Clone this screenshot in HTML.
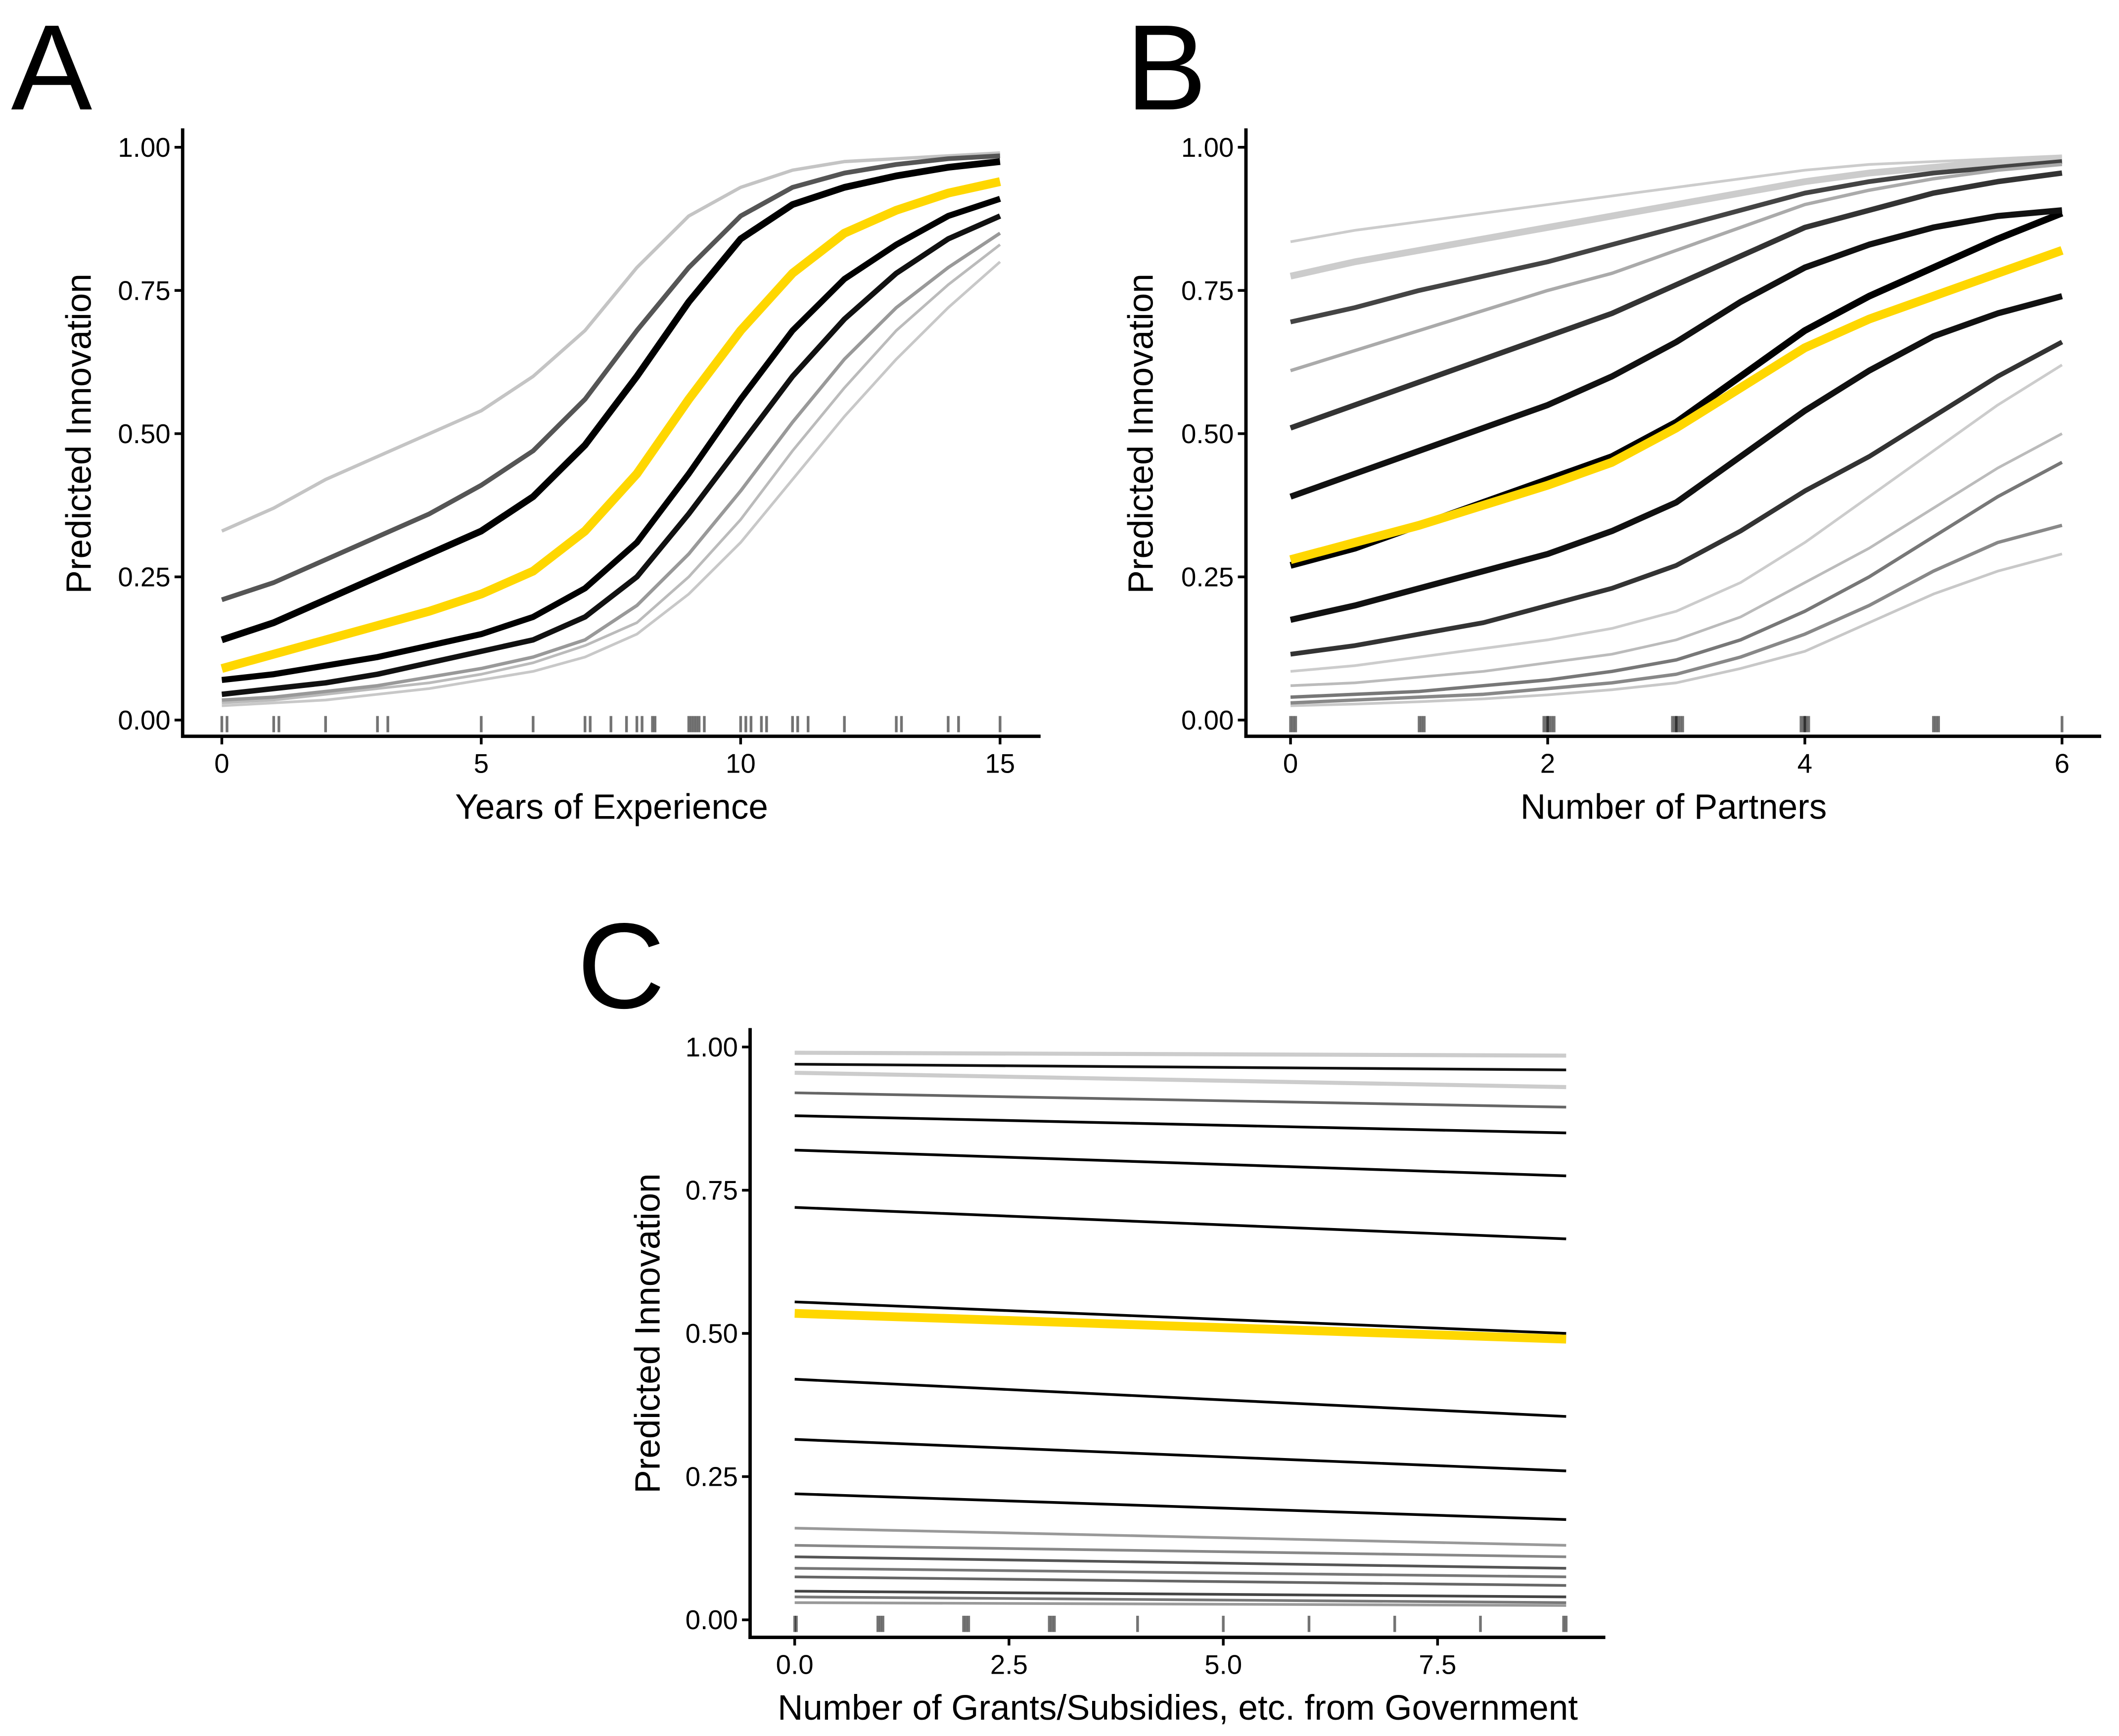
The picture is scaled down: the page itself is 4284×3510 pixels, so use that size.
<!DOCTYPE html>
<html><head><meta charset="utf-8">
<style>
html,body{margin:0;padding:0;background:#fff;}
svg{display:block;font-family:"Liberation Sans",Arial,sans-serif;}
</style></head>
<body>
<svg id="chart" width="4284" height="3510" viewBox="0 0 1568 1285" xmlns="http://www.w3.org/2000/svg">
<rect width="1568" height="1285" fill="#fff"/>
</svg>
<script>
// ---- Panel A data ----
const aX = [0,1,2,3,4,5,6,7,8,9,10,11,12,13,14,15];
const aYellow = [0.09,0.115,0.14,0.165,0.19,0.22,0.26,0.33,0.43,0.56,0.68,0.78,0.85,0.89,0.92,0.94];
const aLightTop = [0.33,0.37,0.42,0.46,0.50,0.54,0.60,0.68,0.79,0.88,0.93,0.96,0.975,0.98,0.985,0.99];
const aDarkGray = [0.21,0.24,0.28,0.32,0.36,0.41,0.47,0.56,0.68,0.79,0.88,0.93,0.955,0.97,0.98,0.985];
const aBlack1 = [0.14,0.17,0.21,0.25,0.29,0.33,0.39,0.48,0.60,0.73,0.84,0.90,0.93,0.95,0.965,0.975];
const aBlack2 = [0.07,0.08,0.095,0.11,0.13,0.15,0.18,0.23,0.31,0.43,0.56,0.68,0.77,0.83,0.88,0.91];
const aBlack3 = [0.045,0.055,0.065,0.08,0.1,0.12,0.14,0.18,0.25,0.36,0.48,0.6,0.7,0.78,0.84,0.88];
const aGray1 = [0.035,0.04,0.05,0.06,0.075,0.09,0.11,0.14,0.2,0.29,0.4,0.52,0.63,0.72,0.79,0.85];
const aGray2 = [0.03,0.035,0.045,0.055,0.065,0.08,0.1,0.13,0.17,0.25,0.35,0.47,0.58,0.68,0.76,0.83];
const aGray3 = [0.025,0.03,0.035,0.045,0.055,0.07,0.085,0.11,0.15,0.22,0.31,0.42,0.53,0.63,0.72,0.8];
const aRug = [0,0.1,1,1.1,2,3,3.2,5,6,7,7.1,7.5,7.8,8,8.1,8.3,8.35,9,9.05,9.1,9.15,9.2,9.3,10,10.1,10.2,10.4,10.5,11,11.1,11.3,12,13,13.1,14,14.2,15];
const aXTicks = [0,5,10,15];
// ---- Panel B data ----
const bX = [0,0.5,1,1.5,2,2.5,3,3.5,4,4.5,5,5.5,6];
const bYellow = [0.28,0.31,0.34,0.375,0.41,0.45,0.51,0.58,0.65,0.70,0.74,0.78,0.82];
const bLight1 = [0.835,0.855,0.87,0.885,0.9,0.915,0.93,0.945,0.96,0.97,0.975,0.98,0.985];
const bLight2 = [0.775,0.8,0.82,0.84,0.86,0.88,0.9,0.92,0.94,0.955,0.965,0.975,0.98];
const bDark1 = [0.695,0.72,0.75,0.775,0.8,0.83,0.86,0.89,0.92,0.94,0.955,0.965,0.975];
const bGray1 = [0.61,0.645,0.68,0.715,0.75,0.78,0.82,0.86,0.9,0.925,0.945,0.96,0.97];
const bDark2 = [0.51,0.55,0.59,0.63,0.67,0.71,0.76,0.81,0.86,0.89,0.92,0.94,0.955];
const bBlack1 = [0.39,0.43,0.47,0.51,0.55,0.60,0.66,0.73,0.79,0.83,0.86,0.88,0.89];
const bBlack2 = [0.27,0.30,0.34,0.38,0.42,0.46,0.52,0.60,0.68,0.74,0.79,0.84,0.885];
const bBlack3 = [0.175,0.2,0.23,0.26,0.29,0.33,0.38,0.46,0.54,0.61,0.67,0.71,0.74];
const bDark3 = [0.115,0.13,0.15,0.17,0.2,0.23,0.27,0.33,0.4,0.46,0.53,0.6,0.66];
const bGray2 = [0.085,0.095,0.11,0.125,0.14,0.16,0.19,0.24,0.31,0.39,0.47,0.55,0.62];
const bGray3 = [0.06,0.065,0.075,0.085,0.1,0.115,0.14,0.18,0.24,0.3,0.37,0.44,0.5];
const bGray4 = [0.04,0.045,0.05,0.06,0.07,0.085,0.105,0.14,0.19,0.25,0.32,0.39,0.45];
const bGray5 = [0.03,0.035,0.04,0.045,0.055,0.065,0.08,0.11,0.15,0.2,0.26,0.31,0.34];
const bGray6 = [0.025,0.028,0.032,0.037,0.044,0.053,0.065,0.09,0.12,0.17,0.22,0.26,0.29];
const bRug = [0,0.02,0.04,1,1.02,1.04,2,1.97,1.99,2.01,2.03,2.05,3,2.97,2.99,3.01,3.03,3.05,4,3.97,3.99,4.01,4.03,5,5.02,5.04,6];
const bXTicks = [0,2,4,6];
// ---- Panel C data ----
const cX = [0,9];
const cStarts = [0.99,0.97,0.955,0.92,0.88,0.82,0.72,0.555,0.42,0.315,0.22,0.16,0.13,0.11,0.09,0.075,0.05,0.04,0.03];
const cEnds   = [0.985,0.96,0.93,0.895,0.85,0.775,0.665,0.50,0.355,0.26,0.175,0.13,0.11,0.09,0.075,0.06,0.04,0.03,0.025];
const cColors = ['#ccc','#111','#ccc','#666','#000','#000','#000','#000','#000','#000','#000','#999','#888','#555','#777','#666','#444','#777','#999'];
const cYellow = [0.535,0.49];
const cRug = [0,0.02,1,0.97,1.03,2,1.97,2.03,3,2.97,3.03,4,5,6,7,8,9,8.97];
const cXTicks = [0,2.5,5,7.5];
const cXTickLabels = ['0.0','2.5','5.0','7.5'];
const yTicks = [0,0.25,0.5,0.75,1];
const yTickLabels = ['0.00','0.25','0.50','0.75','1.00'];

const svg = document.getElementById('chart');
const NS = 'http://www.w3.org/2000/svg';
function mk(tag, attrs, parent){ const e=document.createElementNS(NS,tag); for(const k in attrs) e.setAttribute(k,attrs[k]); (parent||svg).appendChild(e); return e; }

function panel(cfg){
  const g = mk('g',{});
  
  
  const sx = v => cfg.x0 + (v - cfg.xmin)/(cfg.xmax-cfg.xmin)*(cfg.x1-cfg.x0);
  const sy = v => cfg.y0 - v*(cfg.y0-cfg.y1);
  cfg.rug.forEach(r=>{
    const l = mk('line',{x1:sx(r),x2:sx(r),y1:cfg.y0-3,y2:cfg.y0+9,stroke:'#000','stroke-opacity':0.55,'stroke-width':2},g);
    
    
  });
  cfg.series.forEach(s=>{
    const d = s.ys.map((v,i)=>(i?'L':'M')+sx(s.xs[i]).toFixed(2)+','+sy(v).toFixed(2)).join(' ');
    const p = mk('path',{d:d,fill:'none',stroke:s.c,'stroke-width':s.w,'stroke-linejoin':'round'},g);
    
    
  });
  const ya = mk('line',{x1:cfg.ax,x2:cfg.ax,y1:cfg.ytop,y2:cfg.ab+1.2,stroke:'#000','stroke-width':2.5},g);
  
  
  const xa = mk('line',{x1:cfg.ax-1.2,x2:cfg.xend,y1:cfg.ab,y2:cfg.ab,stroke:'#000','stroke-width':2.5},g);
  
  
  yTicks.forEach((t,i)=>{
    mk('line',{x1:cfg.ax-6,x2:cfg.ax,y1:sy(t),y2:sy(t),stroke:'#000','stroke-width':2},g);
    const tx = mk('text',{x:cfg.ax-9,y:sy(t)+7,'text-anchor':'end','font-size':20,fill:'#000'},g);
    tx.textContent = yTickLabels[i];
    
    
  });
  cfg.xticks.forEach((t,i)=>{
    mk('line',{x1:sx(t),x2:sx(t),y1:cfg.ab,y2:cfg.ab+6,stroke:'#000','stroke-width':2},g);
    const tx = mk('text',{x:sx(t),y:cfg.ab+27,'text-anchor':'middle','font-size':20,fill:'#000'},g);
    tx.textContent = cfg.xlabels ? cfg.xlabels[i] : String(t);
    
    
  });
  const yt = mk('text',{x:0,y:0,'text-anchor':'middle','font-size':26,transform:`translate(${cfg.ytx},${(cfg.y0+cfg.y1)/2}) rotate(-90)`},g);
  yt.textContent='Predicted Innovation';
  
  
  const xt = mk('text',{x:(cfg.ax+cfg.xend)/2,y:cfg.ab+61,'text-anchor':'middle','font-size':26},g);
  xt.textContent=cfg.xtitle;
  
  
  const lt = mk('text',{x:cfg.lx,y:cfg.ly,'font-size':90},g);
  lt.textContent=cfg.letter;
  
  
}

const S = (xs,ys,c,w,n)=>({xs,ys,c,w,n});
panel({name:'panel-a',letter:'A',lx:8,ly:81,x0:164,x1:740,xmin:0,xmax:15,y0:533,y1:109,ax:135,ab:545,ytop:95,xend:770,ytx:67,
  xticks:aXTicks,xtitle:'Years of Experience',rug:aRug,
  series:[
    S(aX,aGray3,'#c8c8c8',2,'gray-curve'),S(aX,aGray2,'#bbb',2,'gray-curve'),S(aX,aGray1,'#999',2.5,'gray-curve'),
    S(aX,aLightTop,'#c4c4c4',2.5,'gray-curve'),S(aX,aDarkGray,'#555',3.5,'gray-curve'),
    S(aX,aBlack3,'#111',4,'black-curve'),S(aX,aBlack2,'#000',4.5,'black-curve'),S(aX,aBlack1,'#000',5,'black-curve'),
    S(aX,aYellow,'#FFD700',6.5,'average-curve')]});
panel({name:'panel-b',letter:'B',lx:833,ly:81,x0:955,x1:1526,xmin:0,xmax:6,y0:533,y1:109,ax:922,ab:545,ytop:95,xend:1555,ytx:853,
  xticks:bXTicks,xtitle:'Number of Partners',rug:bRug,
  series:[
    S(bX,bGray6,'#c8c8c8',2,'gray-curve'),S(bX,bGray5,'#888',2.5,'gray-curve'),S(bX,bGray4,'#777',2.5,'gray-curve'),
    S(bX,bGray3,'#bbb',2,'gray-curve'),S(bX,bGray2,'#ccc',2,'gray-curve'),
    S(bX,bLight1,'#ccc',2,'gray-curve'),S(bX,bLight2,'#ccc',5,'gray-curve'),S(bX,bDark1,'#444',3.5,'gray-curve'),
    S(bX,bGray1,'#aaa',2.5,'gray-curve'),S(bX,bDark2,'#333',4,'gray-curve'),S(bX,bDark3,'#333',3.5,'gray-curve'),
    S(bX,bBlack3,'#111',4.5,'black-curve'),S(bX,bBlack2,'#000',5,'black-curve'),S(bX,bBlack1,'#111',4.5,'black-curve'),
    S(bX,bYellow,'#FFD700',6.5,'average-curve')]});
const cSeries = cStarts.map((s,i)=>S(cX,[s,cEnds[i]],cColors[i],cColors[i]==='#ccc'?3:2,'line'));
cSeries.push(S(cX,cYellow,'#FFD700',6.5,'average-line'));
panel({name:'panel-c',letter:'C',lx:427,ly:746,x0:588,x1:1159,xmin:0,xmax:9,y0:1199,y1:775,ax:555,ab:1212,ytop:761,xend:1188,ytx:488,
  xticks:cXTicks,xlabels:cXTickLabels,xtitle:'Number of Grants/Subsidies, etc. from Government',rug:cRug,series:cSeries});
</script>
</body></html>
